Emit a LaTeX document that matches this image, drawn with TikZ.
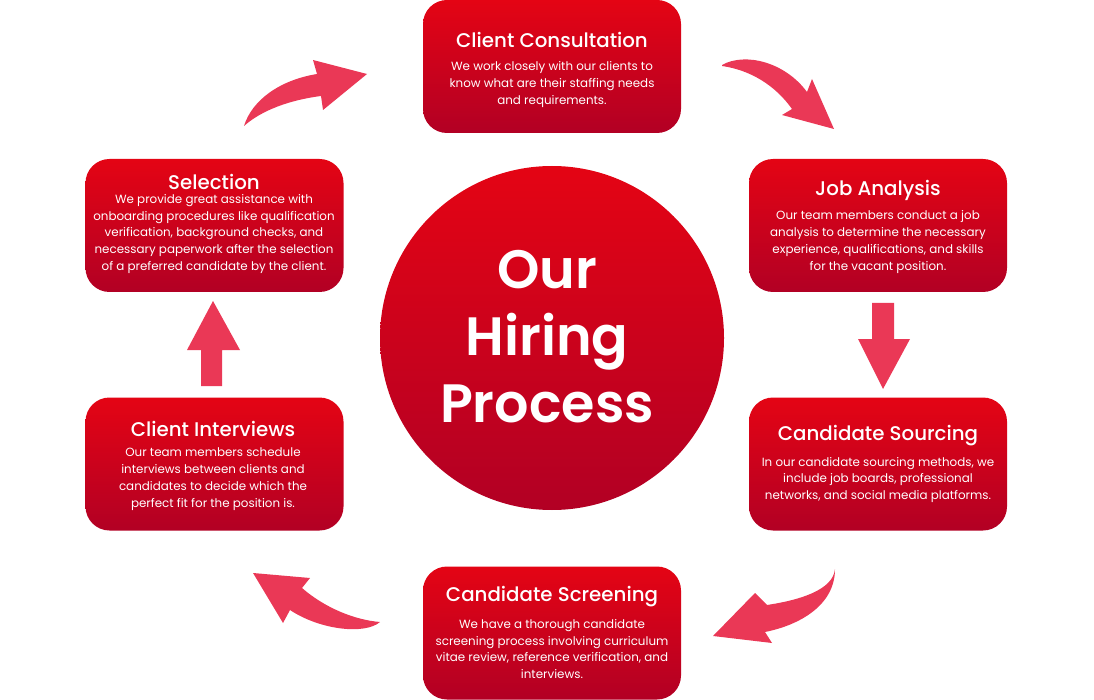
\documentclass[tikz,border=0pt]{standalone}
\usepackage{fontspec}
\setmainfont{Poppins}
\newfontfamily\medfont{Poppins Medium}
\newfontfamily\semifont{Poppins SemiBold}
\definecolor{rtop}{RGB}{228,4,20}
\definecolor{rbot}{RGB}{178,0,36}
\definecolor{arr}{RGB}{234,56,86}
\tikzset{
  card/.style={rectangle,top color=rtop,bottom color=rbot,rounded corners=24pt,draw=none,minimum width=258pt,minimum height=133pt,inner sep=0pt},
  ttl/.style={text=white,font=\medfont\fontsize{19.8}{22}\selectfont,inner sep=0pt},
  bdy/.style={text=white,font=\fontsize{11.9}{16.8}\selectfont,align=center,inner sep=0pt},
  arrowshape/.style={fill=arr,draw=none},
}
\begin{document}
\begin{tikzpicture}[x=1pt,y=-1pt]
\useasboundingbox (0,0) rectangle (1094,700);
% hub
\node[circle,top color=rtop,bottom color=rbot,minimum size=344pt,inner sep=0pt] (hub) at (552,338) {};
\node[text=white,font=\semifont\fontsize{54}{67}\selectfont,align=center,inner sep=0pt] (hubtxt) at (547,337) {Our\\Hiring\\Process};
% cards
\node[card] (cc) at (552,66.5) {};
\node[ttl] (cct) at (552,40) {Client Consultation};
\node[bdy] (ccb) at (552,84.5) {We work closely with our clients to\\know what are their staffing needs\\and requirements.};

\node[card] (ja) at (878,225.5) {};
\node[ttl] (jat) at (878,190) {Job Analysis};
\node[bdy] (jab) at (878,242) {Our team members conduct a job\\analysis to determine the necessary\\experience, qualifications, and skills\\for the vacant position.};

\node[card] (cs) at (878,464) {};
\node[ttl] (cst) at (878,436) {Candidate Sourcing};
\node[bdy] (csb) at (878,480) {In our candidate sourcing methods, we\\include job boards, professional\\networks, and social media platforms.};

\node[card] (csc) at (552,633) {};
\node[ttl] (csct) at (552,597) {Candidate Screening};
\node[bdy] (cscb) at (552,649) {We have a thorough candidate\\screening process involving curriculum\\vitae review, reference verification, and\\interviews.};

\node[card] (ci) at (214.5,464) {};
\node[ttl] (cit) at (213,429) {Client Interviews};
\node[bdy] (cib) at (213,479) {Our team members schedule\\interviews between clients and\\candidates to decide which the\\perfect fit for the position is.};

\node[card] (sel) at (214.5,225.5) {};
\node[ttl] (selt) at (214,182) {Selection};
\node[bdy] (selb) at (214,234) {We provide great assistance with\\onboarding procedures like qualification\\verification, background checks, and\\necessary paperwork after the selection\\of a preferred candidate by the client.};

% arrows
\fill[arrowshape] (244,126) .. controls (252,100) and (280,80) .. (317,74) -- (313,60) -- (367,74) -- (323,110) -- (321,96) .. controls (290,100) and (262,110) .. (244,126) -- cycle;
\fill[arrowshape] (722,65) .. controls (745,52) and (785,62) .. (807,92) -- (812,79) -- (834,129) -- (782,115) -- (792,109) .. controls (775,85) and (750,70) .. (722,66) -- cycle;
\fill[arrowshape] (872,303) -- (894,303) -- (894,339) -- (910,339) -- (883,389) -- (858,339) -- (872,339) -- cycle;
\fill[arrowshape] (835,569) .. controls (833,590) and (800,600) .. (767,605) -- (755,593) -- (713,636) -- (772,643) -- (765,632) .. controls (800,625) and (835,605) .. (835,569) -- cycle;
\fill[arrowshape] (253,573) -- (310,578) -- (302,588) .. controls (325,608) and (355,620) .. (380,622) .. controls (365,635) and (320,630) .. (290,610) -- (283,623) -- cycle;
\fill[arrowshape] (201,386) -- (222,386) -- (222,350) -- (240,350) -- (213,301) -- (187,350) -- (201,350) -- cycle;
\end{tikzpicture}
\end{document}
